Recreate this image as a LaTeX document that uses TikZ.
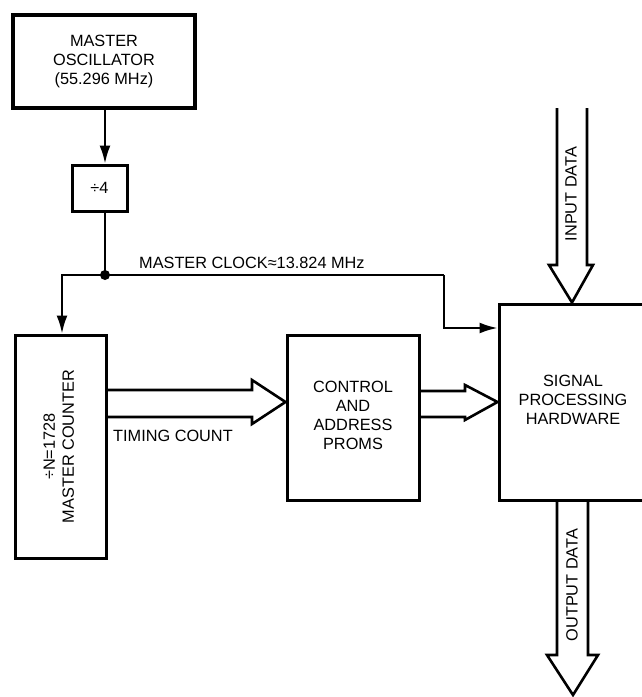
\documentclass[tikz,border=0pt]{standalone}
\usepackage{fontspec}
\setmainfont{Liberation Sans}
\usetikzlibrary{arrows.meta}
\newcommand\lbl{\fontsize{16.3}{19}\selectfont}
\newcommand\stacked[2]{\raisebox{#1}{\begin{tabular}{@{}c@{}}#2\end{tabular}}}
\begin{document}
\begin{tikzpicture}[x=1pt,y=-1pt,
  box/.style={draw,line width=3pt,inner sep=0pt,align=center,font=\lbl},
  wire/.style={line width=2.2pt},
  feed/.style={wire,-{Latex[length=18pt,width=11pt]}},
  bus/.style={line width=2.6pt,line join=miter},
  txt/.style={inner sep=0pt,font=\lbl,align=center}]

\useasboundingbox (0,0) rectangle (642,697);

% blocks
\node[box,line width=3.8pt,minimum width=182pt,minimum height=93pt] (osc) at (104,61.5)
  {\stacked{-2pt}{MASTER\\OSCILLATOR\\(55.296 MHz)}};
\node[box,minimum width=55pt,minimum height=46pt] (div) at (99.5,188) {÷4};
\node[box,minimum width=91pt,minimum height=223pt] (cnt) at (60.5,446.5)
  {\rotatebox{90}{\begin{tabular}{@{}c@{}}÷N=1728\\MASTER COUNTER\end{tabular}}};
\node[box,minimum width=132pt,minimum height=165pt] (prom) at (353,417.5)
  {\stacked{10pt}{CONTROL\\AND\\ADDRESS\\PROMS}};
\node[box,minimum width=148pt,minimum height=196pt] (sig) at (573,402)
  {\stacked{5pt}{SIGNAL\\PROCESSING\\HARDWARE}};

% clock distribution
\coordinate (tap) at (105,275);
\coordinate (cl) at (62,275);
\coordinate (cr) at (444,275);
\coordinate (ck) at (444,328);
\draw[feed] (osc.south -| tap) -- (div.north -| tap);
\draw[wire] (div.south -| tap) -- (tap);
\draw[feed] (cr) -- (cl) -- (cl |- cnt.north);
\draw[feed] (cr) -- (ck) -- (ck -| sig.west);
\fill (tap) circle (5pt);
\node[txt,anchor=base west] (clk) at (139,268) {MASTER CLOCK≈13.824 MHz};

% timing count bus
\draw[bus] (cnt.east |- 0,390) -- (252,390) -- (252,380) -- (prom.west |- 0,402)
  -- (252,424) -- (252,417) -- (cnt.east |- 0,417);
\node[txt,anchor=base west] (tc) at (113,441) {TIMING COUNT};

% control bus into the signal processor
\draw[bus] (prom.east |- 0,391) -- (465,391) -- (465,385) -- (sig.west |- 0,402)
  -- (465,420) -- (465,417) -- (prom.east |- 0,417);

% data in and out
\coordinate (inA) at (557,108);
\coordinate (inB) at (587,108);
\draw[bus] (inA) -- (557,265) -- (549,265) -- (sig.north -| 572,0) -- (593,265)
  -- (587,265) -- (inB);
\node[txt,rotate=90] (din) at (571,194) {INPUT DATA};

\coordinate (outTip) at (573,695);
\draw[bus] (sig.south -| 557,0) -- (557,655) -- (547,655) -- (outTip) -- (598,655)
  -- (588,655) -- (sig.south -| 588,0);
\node[txt,rotate=90] (dout) at (572,585) {OUTPUT DATA};
\end{tikzpicture}
\end{document}
